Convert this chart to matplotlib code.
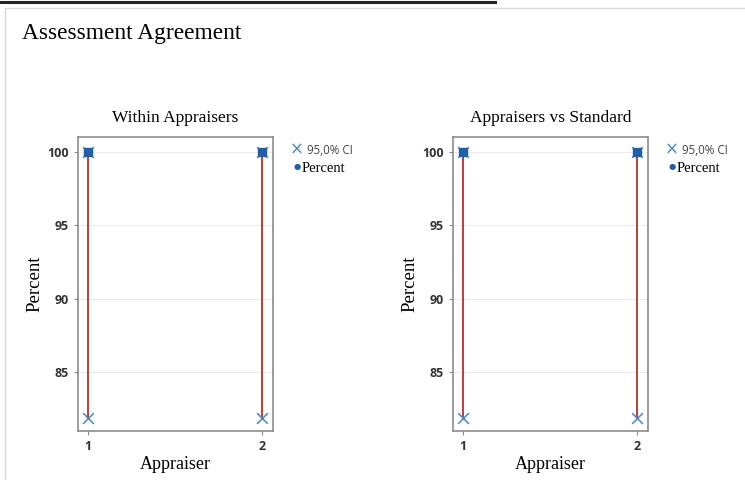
import matplotlib.pyplot as plt
from matplotlib.lines import Line2D

appraisers = [1, 2]
within_pct = [100, 100]
within_lo = [81.9, 81.9]
within_hi = [100, 100]
vs_std_pct = [100, 100]
vs_std_lo = [81.9, 81.9]
vs_std_hi = [100, 100]

panels = [
    ("Within Appraisers", within_pct, within_lo, within_hi),
    ("Appraisers vs Standard", vs_std_pct, vs_std_lo, vs_std_hi),
]

serif = "Liberation Serif"
sans = "Open Sans"
red = "#b8403a"
blue = "#1f5ea8"
ci_blue = "#4b87c9"

fig = plt.figure(figsize=(7.45, 4.8), dpi=100)
W, H = 745, 480

# page frame
fig.add_artist(Line2D([0, 495 / W], [1 - 2 / H] * 2, color="#222222", lw=2.2))
fig.add_artist(Line2D([5 / W, 5 / W], [0, 1 - 8 / H], color="#d8d8d8", lw=1))
fig.add_artist(Line2D([5 / W, 1], [1 - 8 / H] * 2, color="#d8d8d8", lw=1))

fig.text(22 / W, 1 - 34 / H, "Assessment Agreement", family=serif, fontsize=16.8,
         va="center", ha="left")

lefts = [78, 453]
for left, (title, pct, lo, hi) in zip(lefts, panels):
    ax = fig.add_axes([left / W, 1 - 431 / H, 195 / W, 294 / H])
    for x, l, h in zip(appraisers, lo, hi):
        ax.plot([x, x], [l, h], color=red, lw=1.4, zorder=2)
    ax.scatter(appraisers, lo, marker="x", s=60, color=ci_blue, lw=1.1, zorder=3)
    ax.scatter(appraisers, hi, marker="x", s=60, color=ci_blue, lw=1.1, zorder=3)
    ax.scatter(appraisers, pct, marker="s", s=30, color=blue, zorder=4)

    ax.set_xlim(0.943, 2.063)
    ax.set_ylim(81.0, 101.0)
    ax.set_xticks(appraisers)
    ax.set_yticks([85, 90, 95, 100])
    ax.grid(axis="y", color="#ececec", lw=0.8)
    ax.set_axisbelow(True)
    for s in ax.spines.values():
        s.set_color("#8c8c8c")
        s.set_linewidth(1.2)
    ax.tick_params(colors="#8c8c8c", labelcolor="#333333", length=3, width=0.8,
                   labelsize=9)
    for lab in ax.get_xticklabels() + ax.get_yticklabels():
        lab.set_family(sans)
        lab.set_fontweight("bold")

    ax.set_title(title, family=serif, fontsize=12.5, pad=11)
    ax.set_xlabel("Appraiser", family=serif, fontsize=13, labelpad=2)
    ax.set_ylabel("Percent", family=serif, fontsize=13.5, labelpad=3)

    # legend beside each panel
    lx = (left + 219) / W
    fig.text(lx, 1 - 150 / H, "\u00d7", family="DejaVu Sans", fontsize=12,
             color=ci_blue, ha="center", va="center")
    fig.text(lx + 10 / W, 1 - 151 / H, "95,0% CI", family=sans, fontsize=8.3,
             color="#444444", ha="left", va="center")
    fig.text(lx, 1 - 167 / H, "\u25cf", family="DejaVu Sans", fontsize=6,
             color=blue, ha="center", va="center")
    fig.text(lx + 5 / W, 1 - 169 / H, "Percent", family=serif, fontsize=10.5,
             ha="left", va="center")

fig.savefig("out.png", dpi=100)
